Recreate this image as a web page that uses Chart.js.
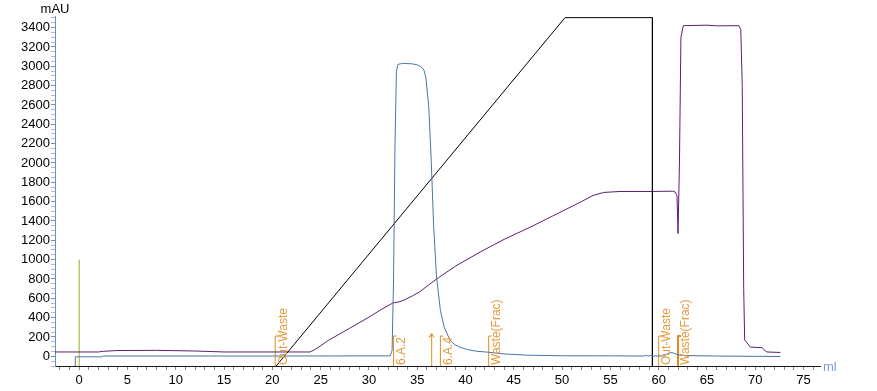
<!DOCTYPE html>
<html>
<head>
<meta charset="utf-8">
<script src="https://cdn.jsdelivr.net/npm/chart.js@4/dist/chart.umd.min.js"></script>
<style>
  body { margin: 0; background: #fff; }
  #wrap { width: 877px; height: 391px; }
</style>
</head>
<body>
<div id="wrap"><canvas id="chromChart" width="877" height="391"></canvas></div>
<script>
// UV trace (mAU) vs volume (ml)
const uvMl  = [-0.4, -0.4, 2.3, 2.5, 20, 32.2, 32.4, 32.55, 32.7, 32.85, 33.0, 33.5, 34.5, 35.0, 35.4, 35.7, 35.9, 36.2, 36.45, 36.7, 37.0, 37.4, 37.8, 38.4, 38.9, 39.4, 40.2, 41.2, 42.2, 44, 46.3, 50, 55, 58.5, 58.7, 58.9, 59.2, 59.5, 60.5, 61.2, 61.5, 62, 62.5, 66, 70, 72.6];
const uvMau = [-100, -5, -5, 3, 3, 5, 60, 800, 2200, 2950, 3020, 3030, 3025, 3015, 2995, 2960, 2880, 2576, 2025, 1350, 820, 475, 300, 165, 120, 95, 70, 52, 44, 25, 12, 6, 5, 3, 12, 2, 10, 3, 5, 40, 35, 15, 8, 3, 0, -2];

// conductivity trace
const condMl  = [-2.5, 2, 2.5, 4, 8, 12, 15, 23.9, 24.5, 25.8, 28, 30, 31.2, 32.5, 33.2, 33.8, 34.5, 35.3, 36.2, 37.2, 39, 41.5, 44, 46.7, 49, 51.9, 53.2, 54.3, 56, 59.3, 61.5, 61.7, 61.9, 62.0, 62.15, 62.3, 62.55, 65, 66, 68.3, 68.5, 68.65, 68.8, 68.9, 69.5, 70.7, 71.0, 71.2, 72.6];
const condVal = [45, 45, 52, 60, 62, 55, 45, 45, 75, 165, 290, 405, 480, 553, 565, 590, 625, 670, 740, 813, 935, 1078, 1210, 1336, 1450, 1595, 1664, 1695, 1705, 1705, 1708, 1700, 1660, 1270, 2000, 3300, 3420, 3425, 3418, 3420, 3380, 2800, 700, 170, 95, 90, 60, 45, 40];

// gradient (%B, scaled)
const concMl  = [20.4, 50.3, 59.35, 59.35];
const concVal = [-100, 3503, 3503, -100];

// injection mark
const injMl  = [0, 0];
const injVal = [-100, 1000];

// fraction marks
const fracMl     = [20.3, 32.55, 36.5, 37.4, 42.4, 60.0, 62.0];
const fracLabels = ['Out-Waste', '6.A.2', '', '6.A.4', 'Waste(Frac)', 'Out-Waste', 'Waste(Frac)'];

const pts = (xs, ys) => xs.map((x, i) => ({ x: x, y: ys[i] }));

function fracPoints(x, label) {
    if (label === '') {
        return [{ x: x, y: -100 }, { x: x, y: 235 }, { x: x - 0.25, y: 195 }, { x: x, y: 235 }, { x: x + 0.25, y: 195 }];
    }
    return [{ x: x, y: -100 }, { x: x, y: 210 }, { x: x + 0.3, y: 210 }];
}

const lineDs = (data, color, width) => ({
    data: data,
    borderColor: color,
    borderWidth: width || 1,
    pointRadius: 0,
    tension: 0,
    fill: false
});

const datasets = [
    lineDs(pts(uvMl, uvMau), '#4a76a6'),
    lineDs(pts(concMl, concVal), '#000000'),
    lineDs(pts(condMl, condVal), '#5b1f6c'),
    lineDs(pts(injMl, injVal), '#a7a51f')
];
fracMl.forEach((x, i) => {
    datasets.push(lineDs(fracPoints(x, fracLabels[i]), '#e28b1f', i === 6 ? 2 : 1));
});

const fontFam = '"Liberation Sans", Arial, sans-serif';

const labelsPlugin = {
    id: 'chromLabels',
    afterDatasetsDraw(chart) {
        const ctx = chart.ctx;
        const xs = chart.scales.x;
        const ys = chart.scales.y;
        const bottom = chart.chartArea.bottom;

        ctx.save();
        ctx.font = '12px ' + fontFam;
        ctx.fillStyle = '#e69a3c';
        ctx.textAlign = 'left';
        ctx.textBaseline = 'top';
        fracMl.forEach((x, i) => {
            if (!fracLabels[i]) return;
            const px = xs.getPixelForValue(x);
            ctx.save();
            ctx.translate(px + 2, bottom - 1);
            ctx.rotate(-Math.PI / 2);
            ctx.fillText(fracLabels[i], 0, 0);
            ctx.restore();
        });

        ctx.font = '13px ' + fontFam;
        ctx.fillStyle = '#000';
        ctx.textAlign = 'center';
        ctx.textBaseline = 'middle';
        ctx.fillText('mAU', ys.right, 9);

        ctx.fillStyle = '#7b9bd8';
        ctx.textAlign = 'left';
        ctx.fillText('ml', xs.right + 3, bottom + 1);
        ctx.restore();
    }
};

new Chart(document.getElementById('chromChart'), {
    type: 'line',
    data: { datasets: datasets },
    options: {
        responsive: false,
        devicePixelRatio: 1,
        animation: false,
        layout: { padding: { top: 16, right: 57, left: 0, bottom: 0 } },
        plugins: {
            legend: { display: false },
            tooltip: { enabled: false }
        },
        scales: {
            x: {
                type: 'linear',
                min: -2.5,
                max: 76.7,
                afterFit: s => { s.height = 25; },
                border: { color: '#1a1a1a', width: 1 },
                grid: { drawOnChartArea: false, tickLength: 4, tickColor: '#8a8a8a' },
                ticks: {
                    stepSize: 1,
                    autoSkip: false,
                    includeBounds: false,
                    maxRotation: 0,
                    padding: 3,
                    color: '#000',
                    font: { size: 13, family: fontFam },
                    callback: v => (Math.round(v) % 5 === 0 ? String(Math.round(v)) : '')
                }
            },
            y: {
                type: 'linear',
                min: -100,
                max: 3520,
                afterFit: s => { s.width = 55; },
                border: { color: '#6d8ec0', width: 1 },
                grid: {
                    drawOnChartArea: false,
                    tickLength: 4,
                    tickColor: c => (c.tick && c.tick.value % 200 === 0 ? '#6d8ec0' : '#a9bcd9')
                },
                ticks: {
                    stepSize: 50,
                    autoSkip: false,
                    includeBounds: false,
                    padding: 1,
                    color: '#000',
                    font: { size: 13, family: fontFam },
                    callback: v => (v >= 0 && v % 200 === 0 ? String(v) : '')
                }
            }
        }
    },
    plugins: [labelsPlugin]
});
</script>
</body>
</html>
